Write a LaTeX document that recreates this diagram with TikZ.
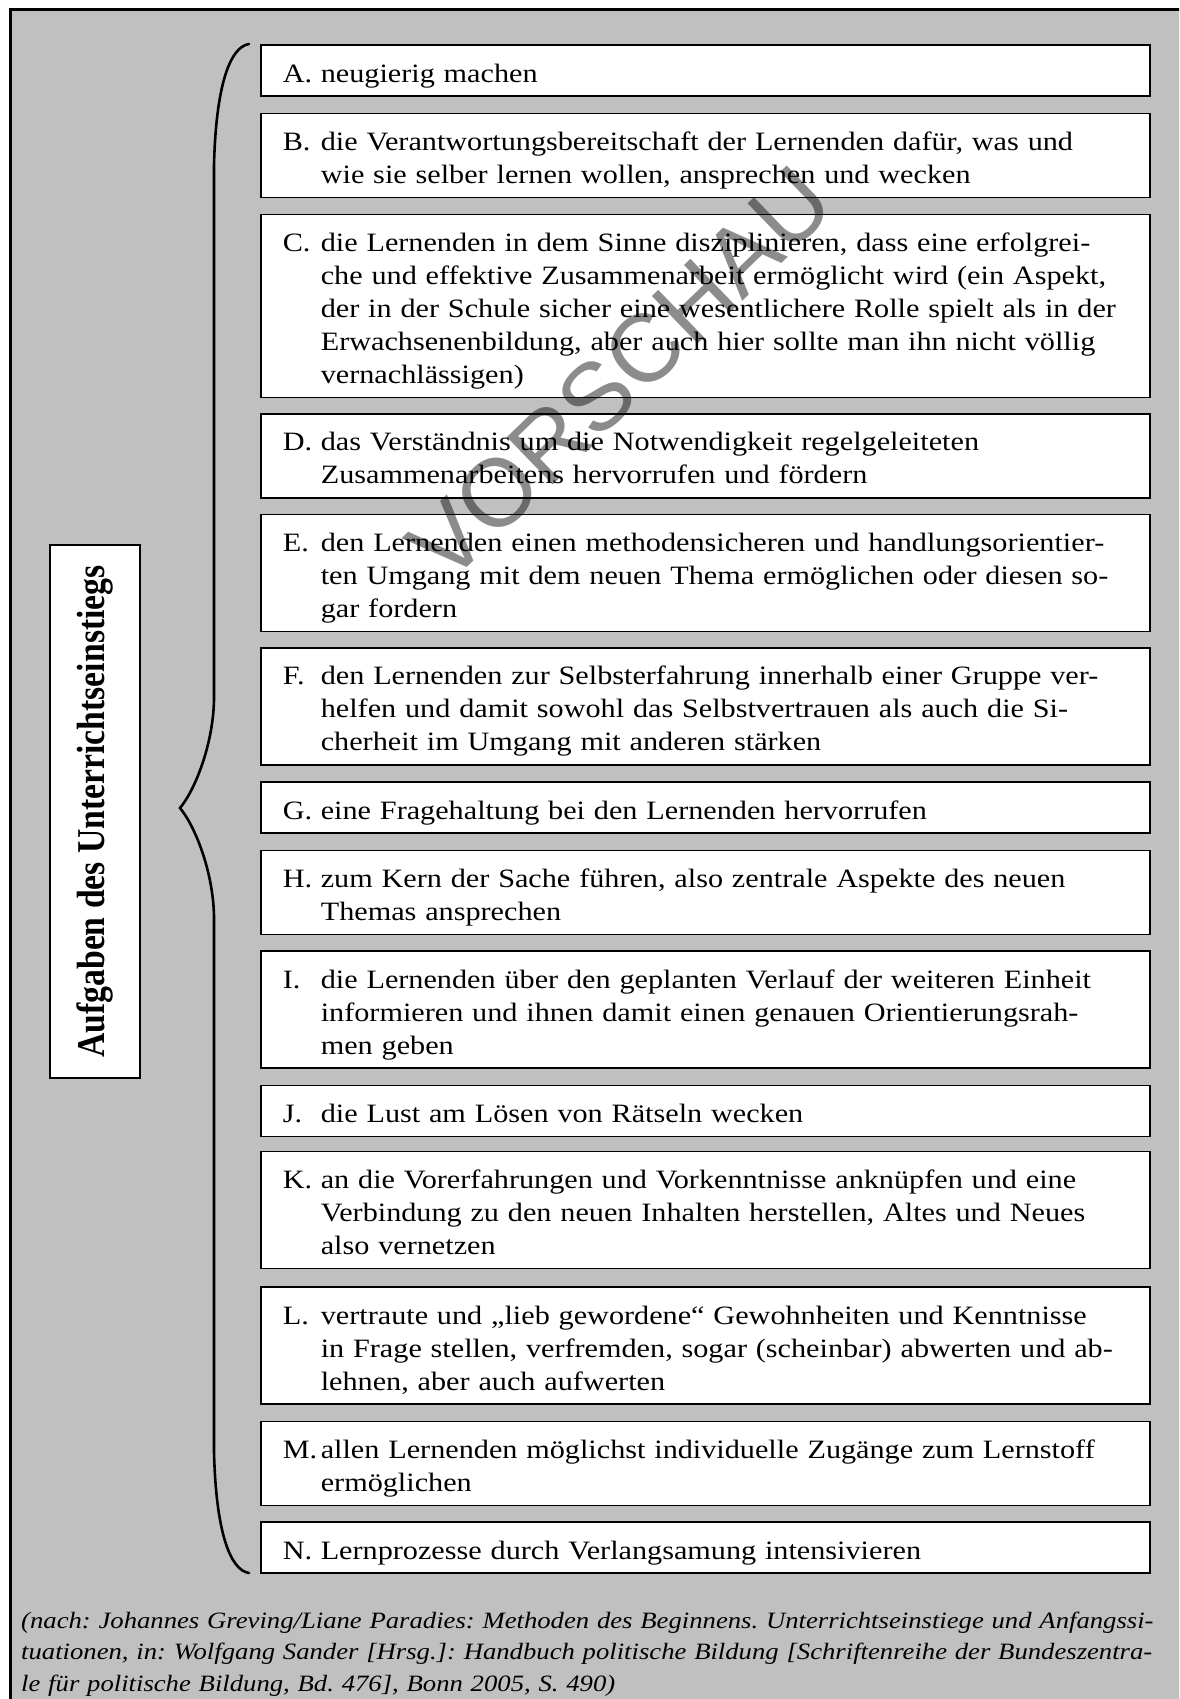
\documentclass[tikz,border=0pt]{standalone}
\usepackage{graphicx}
\usepackage{fontspec}
\setmainfont{Liberation Serif}[FakeStretch=1.14, ItalicFeatures={FakeStretch=1.14}]
\newfontfamily\labelfont{Liberation Serif}
\newfontfamily\wmfont{Liberation Sans}
\definecolor{bggray}{HTML}{C0C0C0}
\frenchspacing
\newcommand\bodyfont{\fontsize{26.5}{33}\selectfont\frenchspacing}
\newcommand\srcfont{\fontsize{23.4}{31.5}\selectfont\itshape\frenchspacing}
% item text: label, lines (separated by \newline)
\newcommand\itemtext[2]{\raggedright\leftskip=22pt\relax\hangindent=38pt\relax\hangafter=1\relax
  \noindent\rule{0pt}{37pt}\makebox[38pt][l]{#1}#2\rule[-14pt]{0pt}{14pt}\par}
\tikzset{
  itembox/.style={draw, line width=1.6pt, fill=white, inner sep=0pt, text width=889pt,
    anchor=north west, font=\bodyfont},
  bracestyle/.style={line width=2.6pt, line cap=round},
}
\begin{document}
\begin{tikzpicture}[x=1pt,y=-1pt]
\useasboundingbox (0,0) rectangle (1179,1699);
\fill[white] (0,0) rectangle (1179,1699);
\begin{scope}
  \clip (0,0) rectangle (1179,1699);
  \draw[line width=3pt, fill=bggray] (10,10) rectangle (1210,1730);
\end{scope}

% title box
\node[draw, line width=1.6pt, fill=white, minimum width=533pt, minimum height=90pt,
  inner sep=0pt, rotate=90] (title) at (95,811.5)
  {\scalebox{1}[1.17]{\labelfont\fontsize{33.7}{40}\selectfont\bfseries Aufgaben des Unterrichtseinstiegs}};

% brace
\draw[bracestyle] (249,44) .. controls (230,47) and (216,85) .. (214,165)
  -- (214,700) .. controls (213,745) and (195,790) .. (180,808)
  .. controls (195,826) and (213,871) .. (214,916)
  -- (214,1452) .. controls (216,1532) and (230,1570) .. (249,1573);

% items
\node[itembox] (A) at (260,44.5) {\itemtext{A.}{\mbox{neugierig machen}}};
\node[itembox] (B) at (260,112.7) {\itemtext{B.}{\mbox{die Verantwortungsbereitschaft der Lernenden dafür, was und}\newline
  \mbox{wie sie selber lernen wollen, ansprechen und wecken}}};
\node[itembox] (C) at (260,213.5) {\itemtext{C.}{\mbox{die Lernenden in dem Sinne disziplinieren, dass eine erfolgrei-}\newline
  \mbox{che und effektive Zusammenarbeit ermöglicht wird (ein Aspekt,}\newline
  \mbox{der in der Schule sicher eine wesentlichere Rolle spielt als in der}\newline
  \mbox{Erwachsenenbildung, aber auch hier sollte man ihn nicht völlig}\newline
  \mbox{vernachlässigen)}}};
\node[itembox] (D) at (260,412.9) {\itemtext{D.}{\mbox{das Verständnis um die Notwendigkeit regelgeleiteten}\newline
  \mbox{Zusammenarbeitens hervorrufen und fördern}}};
\node[itembox] (E) at (260,513.6) {\itemtext{E.}{\mbox{den Lernenden einen methodensicheren und handlungsorientier-}\newline
  \mbox{ten Umgang mit dem neuen Thema ermöglichen oder diesen so-}\newline
  \mbox{gar fordern}}};
\node[itembox] (F) at (260,646.9) {\itemtext{F.}{\mbox{den Lernenden zur Selbsterfahrung innerhalb einer Gruppe ver-}\newline
  \mbox{helfen und damit sowohl das Selbstvertrauen als auch die Si-}\newline
  \mbox{cherheit im Umgang mit anderen stärken}}};
\node[itembox] (G) at (260,781.3) {\itemtext{G.}{\mbox{eine Fragehaltung bei den Lernenden hervorrufen}}};
\node[itembox] (H) at (260,849.5) {\itemtext{H.}{\mbox{zum Kern der Sache führen, also zentrale Aspekte des neuen}\newline
  \mbox{Themas ansprechen}}};
\node[itembox] (I) at (260,950.3) {\itemtext{I.}{\mbox{die Lernenden über den geplanten Verlauf der weiteren Einheit}\newline
  \mbox{informieren und ihnen damit einen genauen Orientierungsrah-}\newline
  \mbox{men geben}}};
\node[itembox] (J) at (260,1084.7) {\itemtext{J.}{\mbox{die Lust am Lösen von Rätseln wecken}}};
\node[itembox] (K) at (260,1150.8) {\itemtext{K.}{\mbox{an die Vorerfahrungen und Vorkenntnisse anknüpfen und eine}\newline
  \mbox{Verbindung zu den neuen Inhalten herstellen, Altes und Neues}\newline
  \mbox{also vernetzen}}};
\node[itembox] (L) at (260,1286.3) {\itemtext{L.}{\mbox{vertraute und „lieb gewordene“ Gewohnheiten und Kenntnisse}\newline
  \mbox{in Frage stellen, verfremden, sogar (scheinbar) abwerten und ab-}\newline
  \mbox{lehnen, aber auch aufwerten}}};
\node[itembox] (M) at (260,1420.6) {\itemtext{M.}{\mbox{allen Lernenden möglichst individuelle Zugänge zum Lernstoff}\newline
  \mbox{ermöglichen}}};
\node[itembox] (N) at (260,1521.4) {\itemtext{N.}{\mbox{Lernprozesse durch Verlangsamung intensivieren}}};

% source
\node[anchor=north west, inner sep=0pt, text width=1139pt, font=\srcfont] (src) at (21,1600)
  {\noindent\rule{0pt}{28pt}\makebox[1139pt][s]{(nach: Johannes Greving/Liane Paradies: Methoden des Beginnens. Unterrichtseinstiege und Anfangssi-}\newline
   \makebox[1139pt][s]{tuationen, in: Wolfgang Sander [Hrsg.]: Handbuch politische Bildung [Schriftenreihe der Bundeszentra-}\newline
   le für politische Bildung, Bd. 476], Bonn 2005, S. 490)\par};

% watermark
\node[rotate=44, font=\wmfont\fontsize{96}{96}\selectfont, text=black, opacity=0.45, inner sep=0pt] (wm) at (620,374) {VORSCHAU};
\end{tikzpicture}
\end{document}
